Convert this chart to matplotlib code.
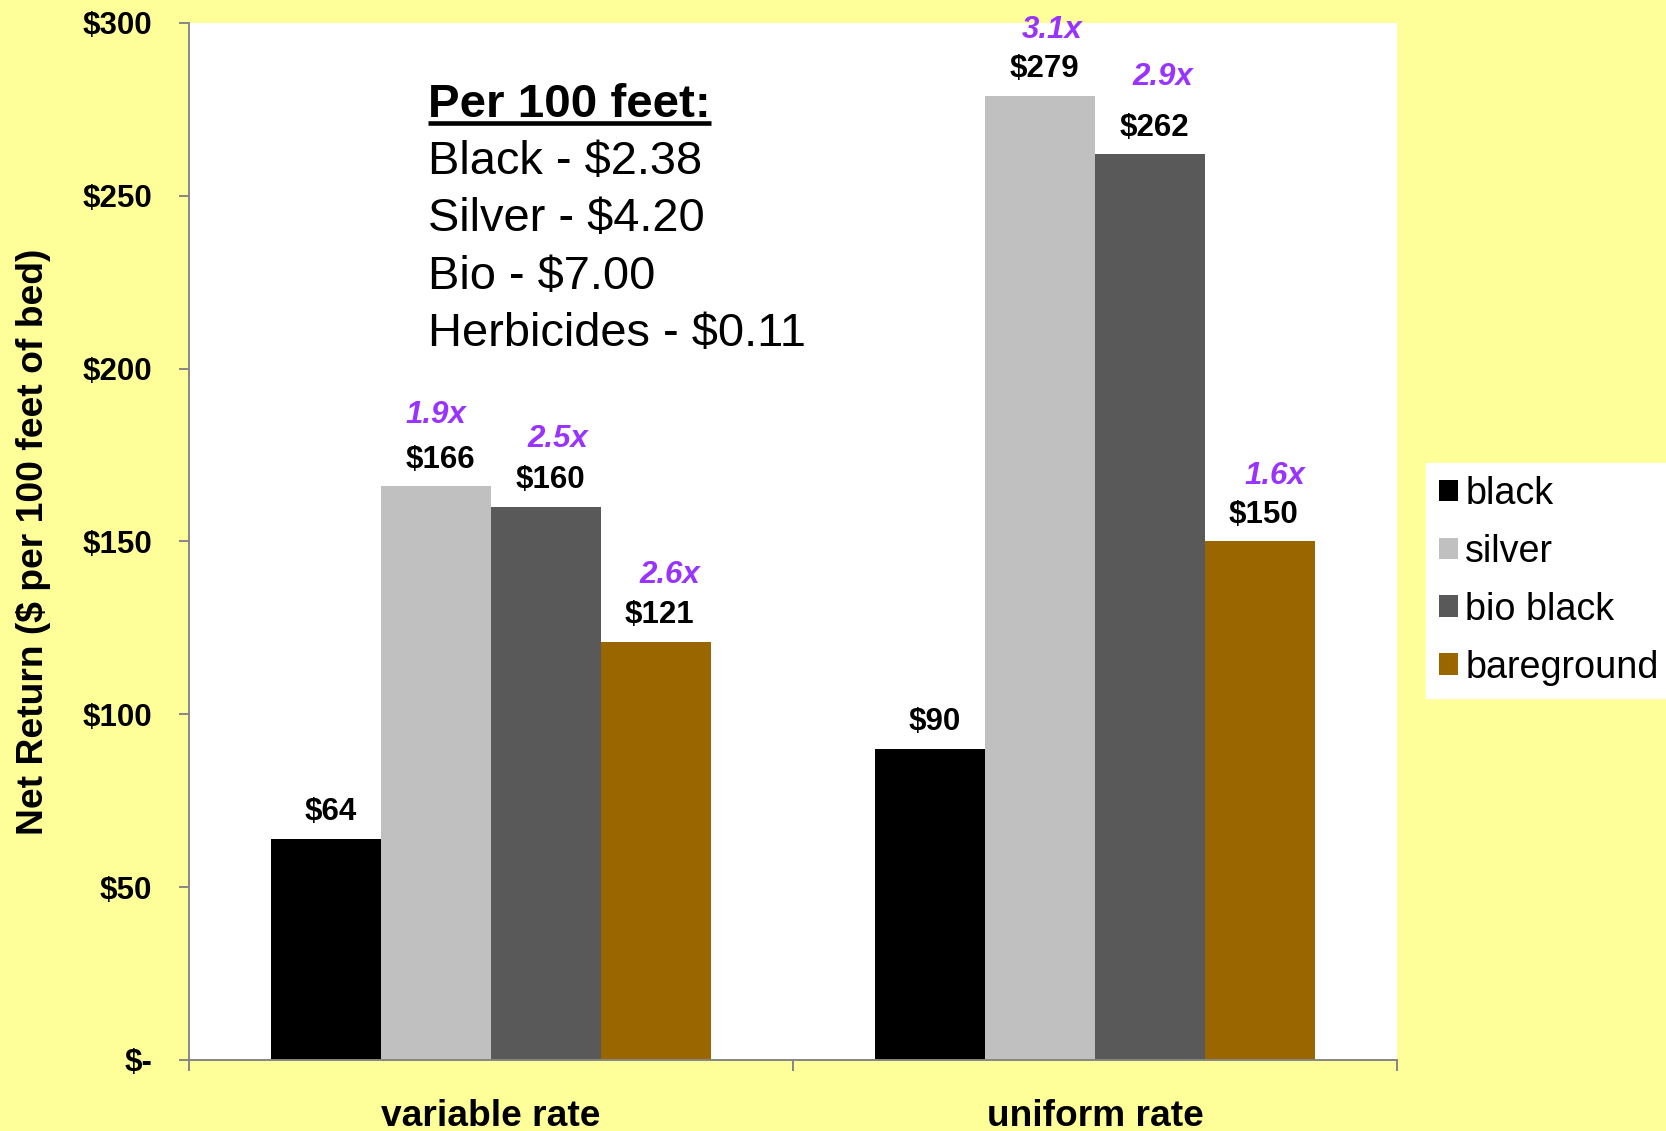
import matplotlib
matplotlib.use("Agg")
import matplotlib.pyplot as plt
from matplotlib.lines import Line2D
import numpy as np

plt.rcParams["font.family"] = ["Liberation Sans", "DejaVu Sans"]

# ---- data ----
categories = ["variable rate", "uniform rate"]
series_names = ["black", "silver", "bio black", "bareground"]
net_return = {
    "black": [64, 90],
    "silver": [166, 279],
    "bio black": [160, 262],
    "bareground": [121, 150],
}
# return multiples relative to the black-plastic bar of each group
multiples = {
    "silver": ["1.9x", "3.1x"],
    "bio black": ["2.5x", "2.9x"],
    "bareground": ["2.6x", "1.6x"],
}
cost_title = "Per 100 feet:"
cost_lines = ["Black - $2.38", "Silver - $4.20", "Bio - $7.00", "Herbicides - $0.11"]
y_ticks = [0, 50, 100, 150, 200, 250, 300]
y_tick_labels = ["$-", "$50", "$100", "$150", "$200", "$250", "$300"]

# ---- styling ----
colors = {"black": "#000000", "silver": "#C0C0C0",
          "bio black": "#595959", "bareground": "#996600"}
bg = "#FFFF99"
axis_gray = "#868686"
purple = "#9933FF"
# label offsets (points) for the multiple annotations, per series and group
mult_offsets = {
    "silver": [(0, 45.4), (9, 41.8)],
    "bio black": [(8.6, 43.4), (9, 49.7)],
    "bareground": [(10, 42.2), (11, 41.5)],
}

fig = plt.figure(figsize=(16.66, 11.31), dpi=100, facecolor=bg)
ax = fig.add_axes([0.11345, 0.06278, 0.72509, 0.91689])
ax.set_facecolor("white")

x = np.arange(len(categories))
n = len(series_names)
bar_w = 0.727 / n
bars = {}
for i, name in enumerate(series_names):
    pos = x + (i - (n - 1) / 2) * bar_w
    bars[name] = ax.bar(pos, net_return[name], width=bar_w,
                        color=colors[name], label=name, linewidth=0, zorder=2)
    for j, (px, v) in enumerate(zip(pos, net_return[name])):
        ax.annotate(f"${v}", (px, v), xytext=(3, 13.3), textcoords="offset points",
                    ha="center", va="baseline", fontsize=22.5, fontweight="bold",
                    color="black", zorder=3)
        if name in multiples:
            dx, dy = mult_offsets[name][j]
            ax.annotate(multiples[name][j], (px, v), xytext=(dx, dy),
                        textcoords="offset points", ha="center", va="baseline",
                        fontsize=22.5, fontweight="bold", fontstyle="italic",
                        color=purple, zorder=3, annotation_clip=False)

ax.set_xlim(-0.5, len(categories) - 0.5)
ax.set_ylim(0, 300)

# y axis
ax.set_yticks(y_ticks)
ax.set_yticklabels(y_tick_labels, fontsize=22.5, fontweight="bold")
ax.tick_params(axis="y", direction="out", length=7.2, width=1.4,
               color=axis_gray, pad=19.4)
ax.set_ylabel("Net Return ($ per 100 feet of bed)", fontsize=26.8,
              fontweight="bold")
ax.yaxis.set_label_coords(-0.114, 0.5)

# x axis: labels at group centres, tick marks at group boundaries
ax.set_xticks(x)
ax.set_xticklabels(categories, fontsize=26.7, fontweight="bold")
ax.tick_params(axis="x", which="major", length=0, pad=28)
ax.set_xticks(np.arange(-0.5, len(categories)), minor=True)
ax.tick_params(axis="x", which="minor", direction="out", length=7.6,
               width=1.4, color=axis_gray)

for side in ("top", "right"):
    ax.spines[side].set_visible(False)
for side in ("left", "bottom"):
    ax.spines[side].set_color(axis_gray)
    ax.spines[side].set_linewidth(1.4)

# cost box
title_y = 0.9096
step = 0.05527
ttl = ax.text(0.198, title_y, cost_title, transform=ax.transAxes, fontsize=34.2,
              fontweight="bold", ha="left", va="baseline", zorder=4)
for k, line in enumerate(cost_lines):
    ax.text(0.198, title_y - (k + 1) * step, line, transform=ax.transAxes,
            fontsize=33.8, ha="left", va="baseline", zorder=4)

# legend
leg = fig.legend(handles=[bars[s] for s in series_names], labels=series_names,
                 loc="upper left", bbox_to_anchor=(1426 / 1666, 1 - 463 / 1131),
                 fontsize=27.2, frameon=True, fancybox=False, framealpha=1,
                 facecolor="white", edgecolor="white", borderpad=0.34,
                 labelspacing=0.58, handlelength=0.5, handleheight=0.5,
                 handletextpad=0.2, borderaxespad=0)

# underline the cost-box heading
fig.canvas.draw()
bb = ttl.get_window_extent(renderer=fig.canvas.get_renderer())
inv = fig.transFigure.inverted()
(x0, _), (x1, _) = inv.transform([(bb.x0, 0), (bb.x1, 0)])
base_px = ax.transAxes.transform((0, title_y))[1]
y_line = inv.transform((0, base_px - 6))[1]
fig.add_artist(Line2D([x0, x1], [y_line, y_line], color="black", linewidth=3.3,
                      transform=fig.transFigure, solid_capstyle="butt"))

fig.savefig("out.png", dpi=100, facecolor=bg)
